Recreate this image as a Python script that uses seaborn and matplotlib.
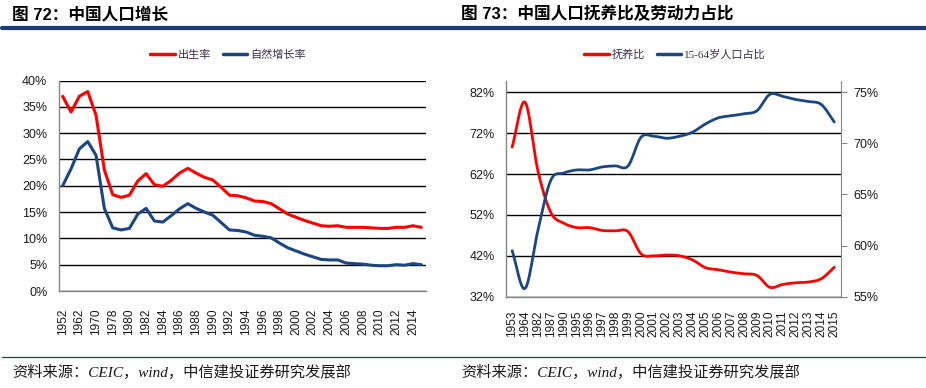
import numpy as np
import pandas as pd
import matplotlib
matplotlib.use('Agg')
import matplotlib.pyplot as plt
from matplotlib.lines import Line2D
import seaborn as sns

# left chart: birth rate / natural growth rate (%)
years_l = ['1952', '1957', '1962', '1965', '1970', '1975', '1978', '1979', '1980', '1981',
           '1982', '1983', '1984', '1985', '1986', '1987', '1988', '1989', '1990', '1991',
           '1992', '1993', '1994', '1995', '1996', '1997', '1998', '1999', '2000', '2001',
           '2002', '2003', '2004', '2005', '2006', '2007', '2008', '2009', '2010', '2011',
           '2012', '2013', '2014', '2015']
birth_rate = [37.0, 34.0, 37.0, 37.9, 33.4, 23.0, 18.3, 17.8, 18.2, 20.9,
              22.3, 20.2, 19.9, 21.0, 22.4, 23.3, 22.4, 21.6, 21.1, 19.7,
              18.2, 18.1, 17.7, 17.1, 17.0, 16.6, 15.6, 14.6, 14.0, 13.4,
              12.9, 12.4, 12.3, 12.4, 12.1, 12.1, 12.1, 12.0, 11.9, 11.9,
              12.1, 12.1, 12.4, 12.1]
growth_rate = [20.0, 23.2, 27.0, 28.4, 25.8, 15.7, 12.0, 11.6, 11.9, 14.6,
               15.7, 13.3, 13.1, 14.3, 15.6, 16.6, 15.7, 15.0, 14.4, 13.0,
               11.6, 11.5, 11.2, 10.6, 10.4, 10.1, 9.1, 8.2, 7.6, 7.0,
               6.5, 6.0, 5.9, 5.9, 5.3, 5.2, 5.1, 4.9, 4.8, 4.8,
               5.0, 4.9, 5.2, 5.0]

# right chart: dependency ratio (left axis) and 15-64 share (right axis), %
years_r = ['1953', '1964', '1982', '1987', '1990', '1995', '1996', '1997', '1998', '1999',
           '2000', '2001', '2002', '2003', '2004', '2005', '2006', '2007', '2008', '2009',
           '2010', '2011', '2012', '2013', '2014', '2015']
dep_ratio = [68.6, 79.6, 62.8, 52.6, 50.0, 48.9, 48.9, 48.2, 48.1, 47.9,
             42.5, 42.0, 42.2, 42.0, 41.0, 39.1, 38.6, 38.0, 37.6, 37.2,
             34.3, 35.0, 35.4, 35.6, 36.4, 39.2]
work_share = [59.5, 55.8, 61.5, 66.4, 67.1, 67.4, 67.4, 67.7, 67.8, 67.8,
              70.6, 70.7, 70.5, 70.7, 71.1, 71.9, 72.5, 72.7, 72.9, 73.2,
              74.8, 74.6, 74.3, 74.1, 73.8, 72.1]

RED = '#FF0000'
BLUE = '#1B4682'
NAVY = '#1F3A78'
GREY = '#868686'
TXT = '#1A1A1A'

sns.set_style('white')
plt.rcParams['font.family'] = ['Liberation Sans', 'Noto Sans CJK SC']

W, H = 926, 388
fig = plt.figure(figsize=(W / 100, H / 100), dpi=100)


def px_axes(x0, x1, ytop, ybot):
    return fig.add_axes([x0 / W, 1 - ybot / H, (x1 - x0) / W, (ybot - ytop) / H])


def smooth(y, n=12):
    # catmull-rom through the points, like excel's smoothed line
    y = np.asarray(y, float)
    p = np.concatenate([[2 * y[0] - y[1]], y, [2 * y[-1] - y[-2]]])
    xs, ys = [], []
    for i in range(len(y) - 1):
        p0, p1, p2, p3 = p[i], p[i + 1], p[i + 2], p[i + 3]
        t = np.linspace(0, 1, n, endpoint=False)
        v = 0.5 * (2 * p1 + (-p0 + p2) * t + (2 * p0 - 5 * p1 + 4 * p2 - p3) * t ** 2
                   + (-p0 + 3 * p1 - 3 * p2 + p3) * t ** 3)
        xs.append(i + t)
        ys.append(v)
    xs.append([len(y) - 1])
    ys.append([y[-1]])
    return np.concatenate(xs), np.concatenate(ys)


def style_axes(ax, n, xpad):
    for s in ['top', 'right']:
        ax.spines[s].set_visible(False)
    for s in ['left', 'bottom']:
        ax.spines[s].set_color(GREY)
        ax.spines[s].set_linewidth(1)
    ax.grid(axis='y', color='black', linewidth=1)
    ax.grid(axis='x', visible=False)
    ax.set_axisbelow(True)
    ax.set_xlim(-0.5, n - 0.5)
    ax.set_xticks(np.arange(-0.5, n, 1.0), minor=True)
    ax.tick_params(axis='x', which='minor', length=4, color=GREY, width=1)
    ax.tick_params(axis='x', which='major', length=0, labelsize=8.6, labelcolor=TXT,
                   rotation=90, pad=xpad)
    ax.tick_params(axis='y', length=0, labelsize=9, labelcolor=TXT, pad=8)
    ax.set_xlabel('')
    ax.set_ylabel('')


# ---- left chart
df_l = pd.DataFrame({'x': np.arange(len(years_l)), '出生率': birth_rate, '自然增长率': growth_rate})
ax1 = px_axes(58.5, 425.5, 80.5, 291)
sns.lineplot(data=df_l, x='x', y='出生率', ax=ax1, color=RED, linewidth=2.2)
sns.lineplot(data=df_l, x='x', y='自然增长率', ax=ax1, color=BLUE, linewidth=2.2)
style_axes(ax1, len(years_l), 12.5)
ax1.set_ylim(0, 40)
ax1.set_yticks(range(0, 41, 5))
ax1.set_yticklabels([f'{v}%' for v in range(0, 41, 5)])
ax1.set_xticks(np.arange(0, len(years_l), 2))
ax1.set_xticklabels(years_l[::2])

# ---- right chart
ax2 = px_axes(505.7, 840.7, 80.5, 296.7)
sx, sy = smooth(dep_ratio)
sns.lineplot(x=sx, y=sy, ax=ax2, color=RED, linewidth=2.0, sort=False, estimator=None)
style_axes(ax2, len(years_r), 10)
ax2.set_ylim(32, 32 + 50 * (296.7 - 80.5) / (296.7 - 92.3))
ax2.set_yticks(range(32, 83, 10))
ax2.set_yticklabels([f'{v}%' for v in range(32, 83, 10)])
ax2.set_xticks(np.arange(len(years_r)))
ax2.set_xticklabels(years_r)

ax3 = ax2.twinx()
bx, by = smooth(work_share)
sns.lineplot(x=bx, y=by, ax=ax3, color=BLUE, linewidth=2.0, sort=False, estimator=None)
ax3.set_ylim(55, 55 + 20 * (296.7 - 80.5) / (296.7 - 92.3))
ax3.set_yticks(range(55, 76, 5))
ax3.set_yticklabels([f'{v}%' for v in range(55, 76, 5)])
for s in ['top', 'left', 'bottom']:
    ax3.spines[s].set_visible(False)
ax3.spines['right'].set_color(GREY)
ax3.grid(False)
ax3.set_ylabel('')
ax3.tick_params(axis='y', length=4, color=GREY, labelsize=9, labelcolor=TXT, pad=5)

# ---- legends
h_red = Line2D([], [], color=RED, linewidth=2.5)
h_blue = Line2D([], [], color=BLUE, linewidth=2.5)
fig.legend([h_red, h_blue], ['出生率', '自然增长率'], loc='center', bbox_to_anchor=(228 / W, 1 - 55 / H),
           ncol=2, frameon=False, fontsize=8, handlelength=2.2, handletextpad=0.25,
           columnspacing=1.1, labelcolor='#3A3050')
fig.legend([h_red, h_blue], ['抚养比', '15-64岁人口占比'], loc='center', bbox_to_anchor=(675 / W, 1 - 55 / H),
           ncol=2, frameon=False, handlelength=2.2, handletextpad=0.25,
           columnspacing=1.1, labelcolor='#3A3050',
           prop={'family': ['Liberation Serif', 'Noto Sans CJK SC'], 'size': 8})

# ---- titles, rules, sources
fig.text(12 / W, 1 - 14 / H, '图 72：中国人口增长', fontsize=12, fontweight='bold',
         va='center', ha='left', color='black')
fig.text(461 / W, 1 - 14 / H, '图 73：中国人口抚养比及劳动力占比', fontsize=12, fontweight='bold',
         va='center', ha='left', color='black')
for x0, x1 in [(2, 460), (460, 926)]:
    fig.add_artist(Line2D([x0 / W, x1 / W], [1 - 28 / H] * 2, color=NAVY, linewidth=3))
    fig.add_artist(Line2D([x0 / W, x1 / W], [1 - 357 / H] * 2, color=NAVY, linewidth=0.9))

src = '资料来源：CEIC，wind，中信建投证券研究发展部'
for x in [12, 461]:
    fig.text(x / W, 1 - 372 / H, src, fontsize=11, style='italic', va='center', ha='left',
             color=TXT, family=['Liberation Serif', 'Noto Sans CJK SC'])

fig.savefig('out.png', dpi=100)
